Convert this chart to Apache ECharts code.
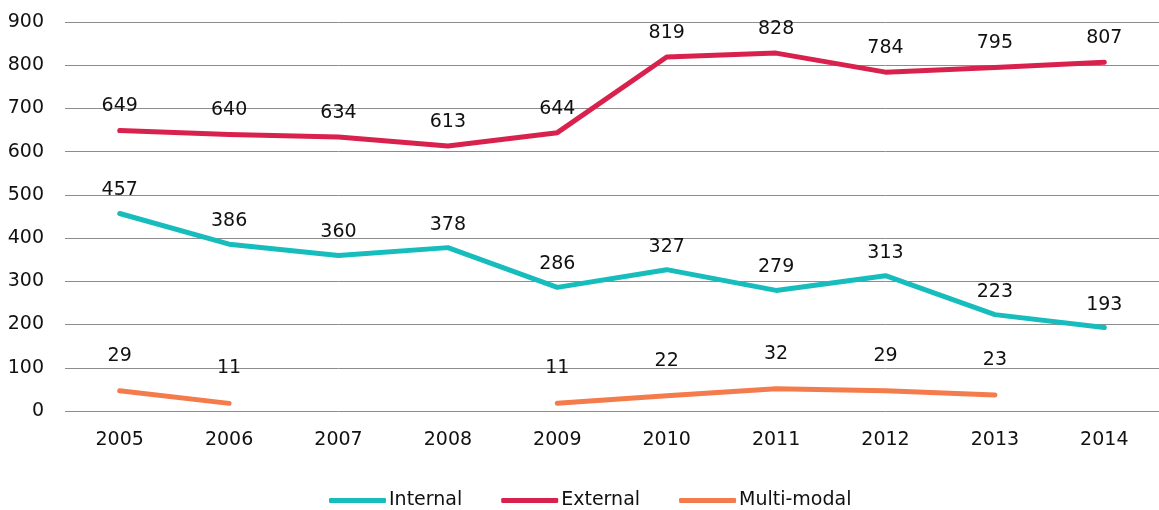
<!DOCTYPE html>
<html>
<head>
<meta charset="utf-8">
<script src="https://cdn.jsdelivr.net/npm/echarts@6/dist/echarts.min.js"></script>
<style>
html,body{margin:0;padding:0;background:#fff;}
#main{width:1159px;height:510px;}
</style>
</head>
<body>
<div id="main"></div>
<script>
var years = ['2005','2006','2007','2008','2009','2010','2011','2012','2013','2014'];
var internal = [457,386,360,378,286,327,279,313,223,193];
var external = [649,640,634,613,644,819,828,784,795,807];
var multiModal = [29,11,null,null,11,22,32,29,23,null];
var seriesNames = ['Internal','External','Multi-modal'];
var colors = ['#17bdbd','#d9214e','#f47b4b'];

var font = '"DejaVu Sans", sans-serif';

function lineSeries(name, data, color, axisIdx, dist) {
	return {
		name: name,
		type: 'line',
		data: data,
		yAxisIndex: axisIdx,
		connectNulls: false,
		symbol: 'circle',
		symbolSize: 1,
		showSymbol: true,
		itemStyle: { color: color },
		lineStyle: { width: 5, color: color, cap: 'round', join: 'round' },
		label: {
			show: true,
			position: 'top',
			distance: dist,
			color: '#111',
			fontSize: 19,
			fontFamily: font
		},
		emphasis: { disabled: true },
		z: 3
	};
}

var dom = document.getElementById('main');
var myChart = echarts.init(dom);
var option = {
	animation: false,
	color: colors,
	grid: { left: 65, right: 0, top: 22, bottom: 99 },
	legend: {
		data: seriesNames,
		left: 324,
		top: 486,
		icon: 'roundRect',
		itemWidth: 57,
		itemHeight: 5,
		itemGap: 39,
		textStyle: { fontSize: 19, color: '#111', fontFamily: font, padding: [0,0,0,-2] }
	},
	xAxis: {
		type: 'category',
		data: years,
		boundaryGap: true,
		axisLine: { show: false },
		axisTick: { show: false },
		axisLabel: { fontSize: 19, color: '#111', fontFamily: font, margin: 20 }
	},
	yAxis: [{
		type: 'value',
		min: 0,
		max: 900,
		interval: 100,
		axisLine: { show: false },
		axisTick: { show: false },
		splitLine: { lineStyle: { color: '#8c8c8c', width: 1 } },
		axisLabel: { fontSize: 19, color: '#111', fontFamily: font, margin: 21 }
	}, {
		type: 'value',
		min: 0,
		max: 560,
		show: false,
		splitLine: { show: false }
	}],
	series: [
		lineSeries(seriesNames[0], internal, colors[0], 0, 13),
		lineSeries(seriesNames[1], external, colors[1], 0, 14),
		lineSeries(seriesNames[2], multiModal, colors[2], 1, 25)
	]
};
myChart.setOption(option, true);
</script>
</body>
</html>
